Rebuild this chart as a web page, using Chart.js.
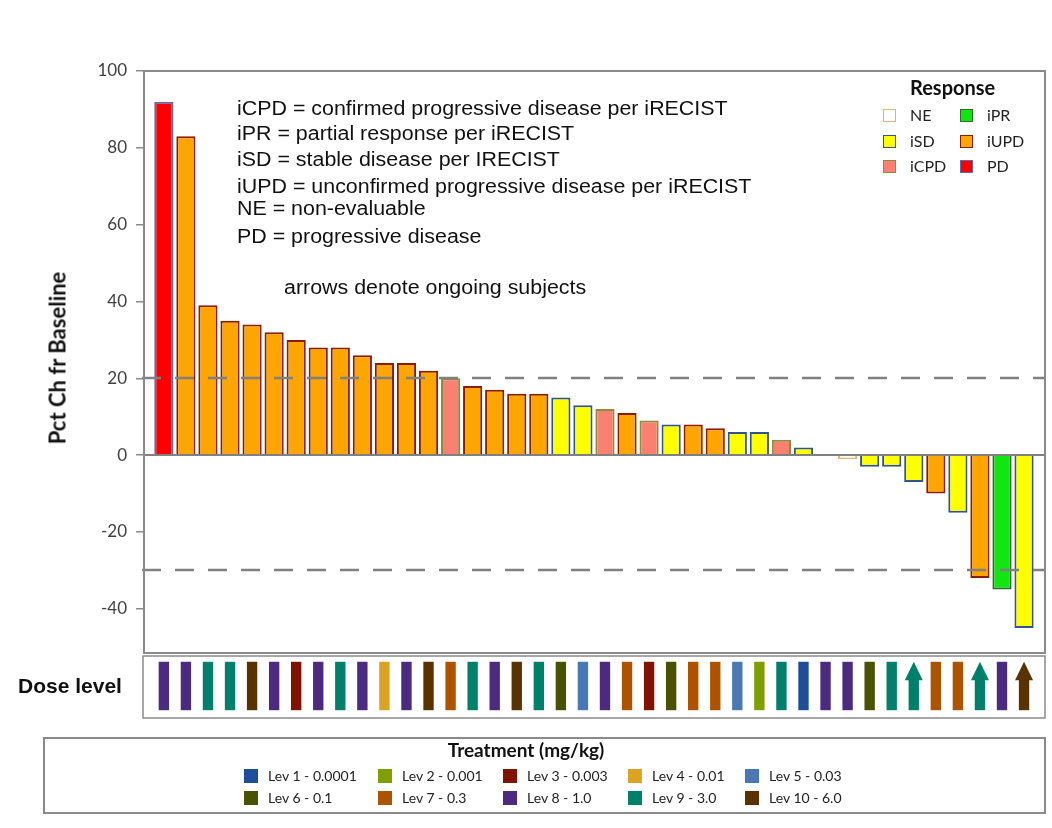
<!DOCTYPE html>
<html>
<head>
<meta charset="utf-8">
<script src="https://cdn.jsdelivr.net/npm/chart.js@4.4.0/dist/chart.umd.min.js"></script>
<style>
  body { margin: 0; background: #fff; }
  #wrap { position: relative; width: 1052px; height: 828px; overflow: hidden; font-family: Lato, sans-serif; background: #fff; }
  #chart { position: absolute; left: 0; top: 0; }
  .note { position: absolute; font-family: "Liberation Sans", Arial, sans-serif; font-size: 20px; line-height: 20px;
          color: #111; white-space: nowrap; transform-origin: 0 50%; transform: scaleX(1.07); }
  .ytitle { position: absolute; left: 57px; top: 358px; transform: translate(-50%, -50%) rotate(-90deg);
            font-family: Lato, sans-serif; font-weight: 700; font-size: 22px; color: #111; white-space: nowrap; }
  .doselab { position: absolute; left: 18px; top: 675px; font-family: "Liberation Sans", Arial, sans-serif;
             font-weight: 700; font-size: 21px; line-height: 22px; color: #111; }
  .resp-title { position: absolute; left: 910px; top: 75px; font-weight: 700; font-size: 20px; line-height: 24px; color: #111; }
  .sw { position: absolute; box-sizing: border-box; }
  .lab { position: absolute; white-space: nowrap; color: #222; }
  #treat { position: absolute; left: 43px; top: 737px; width: 1003px; height: 77px; box-sizing: border-box;
           border: 2px solid #8a8a8a; }
  .treat-title { position: absolute; left: 0; right: 0; top: 739px; text-align: center; font-weight: 700;
                 font-size: 19px; line-height: 22px; color: #111; }
</style>
</head>
<body>
<div id="wrap">
  <canvas id="chart" width="1052" height="828"></canvas>
  <div class="ytitle">Pct Ch fr Baseline</div>
  <div class="doselab">Dose level</div>
  <div id="treat"></div>
  <div class="treat-title">Treatment (mg/kg)</div>
  <div class="resp-title">Response</div>
</div>
<script>
// ---- data -------------------------------------------------------------
const subjects = [1,2,3,4,5,6,7,8,9,10,11,12,13,14,15,16,17,18,19,20,
                  21,22,23,24,25,26,27,28,29,30,31,32,33,34,35,36,37,38,39,40];
// best percent change from baseline in target lesions (null = no measurement)
const pctChange = [92,83,39,35,34,32,30,28,28,26,24,24,22,20,18,17,16,16,15,13,
                   12,11,9,8,8,7,6,6,4,2,null,-1,-3,-3,-7,-10,-15,-32,-35,-45];
const response  = ['PD','iUPD','iUPD','iUPD','iUPD','iUPD','iUPD','iUPD','iUPD','iUPD',
                   'iUPD','iUPD','iUPD','iCPD','iUPD','iUPD','iUPD','iUPD','iSD','iSD',
                   'iCPD','iUPD','iCPD','iSD','iUPD','iUPD','iSD','iSD','iCPD','iSD',
                   null,'NE','iSD','iSD','iSD','iUPD','iSD','iUPD','iPR','iSD'];
const doseLevel = [8,8,9,9,10,8,3,8,9,8,4,8,10,7,9,8,10,9,6,5,
                   8,7,3,6,7,7,5,2,9,1,8,8,6,9,9,7,7,9,8,10];
const ongoingSubjects = [35,38,40];
const yTicks = [100,80,60,40,20,0,-20,-40];
const refLines = [20,-30];

const responseOrder = ['NE','iPR','iSD','iUPD','iCPD','PD'];
const doseLabels = ['Lev 1 - 0.0001','Lev 2 - 0.001','Lev 3 - 0.003','Lev 4 - 0.01','Lev 5 - 0.03',
                    'Lev 6 - 0.1','Lev 7 - 0.3','Lev 8 - 1.0','Lev 9 - 3.0','Lev 10 - 6.0'];
const noteLines = ['iCPD = confirmed progressive disease per iRECIST',
                   'iPR = partial response per iRECIST',
                   'iSD = stable disease per IRECIST',
                   'iUPD = unconfirmed progressive disease per iRECIST',
                   'NE = non-evaluable',
                   'PD = progressive disease'];
const ongoingNote = 'arrows denote ongoing subjects';

// ---- styles -----------------------------------------------------------
const respFill   = { NE:'#ffffff', iPR:'#11e611', iSD:'#ffff00', iUPD:'#ffa500', iCPD:'#fa8072', PD:'#ff0000' };
const respBorder = { NE:'#e3b56a', iPR:'#2f6b2f', iSD:'#2f5496', iUPD:'#8b1c00', iCPD:'#8c8c3a', PD:'#5b6aa8' };
const doseColors = ['#1f4e99','#7f9f00','#7f1200','#dba321','#4a78b5',
                    '#485200','#ad5300','#4b2a80','#00806a','#5a3200'];
const frameColor = '#8a8a8a';
const DOSE_LO = 0.12, DOSE_HI = 0.865, ARROW_BASE = 0.58;   // dose strip marks, in strip units

// ---- datasets ---------------------------------------------------------
const isOngoing = subjects.map(s => ongoingSubjects.includes(s));
const waterfallData = subjects.map((s, i) => ({ x: s, y: pctChange[i] }));
const doseData = subjects.map((s, i) => ({ x: s, y: [DOSE_LO, isOngoing[i] ? ARROW_BASE + 0.01 : DOSE_HI] }));

// frame, reference lines and ongoing arrows
const decorations = {
  id: 'decorations',
  afterDatasetsDraw(chart) {
    const { ctx, scales: { x, y, yDose } } = chart;
    ctx.save();
    // reference lines over the bars
    ctx.strokeStyle = '#808080';
    ctx.lineWidth = 2.5;
    ctx.setLineDash([19, 14]);
    refLines.forEach(v => {
      const py = Math.round(y.getPixelForValue(v));
      ctx.beginPath(); ctx.moveTo(x.left - 2, py); ctx.lineTo(x.right, py); ctx.stroke();
    });
    ctx.setLineDash([]);
    // zero line
    ctx.lineWidth = 2;
    const z = Math.round(y.getPixelForValue(0));
    ctx.beginPath(); ctx.moveTo(x.left, z); ctx.lineTo(x.right, z); ctx.stroke();
    // plot frame (left side is the axis line)
    ctx.strokeStyle = frameColor;
    ctx.lineWidth = 2;
    ctx.strokeRect(x.left, y.top, x.right - x.left, y.bottom - y.top);
    // dose strip box
    ctx.lineWidth = 1.5;
    ctx.strokeRect(x.left - 1, yDose.top + 3, x.right - x.left + 1, yDose.bottom - yDose.top - 3);
    // arrow heads for ongoing subjects
    const meta = chart.getDatasetMeta(1);
    subjects.forEach((s, i) => {
      if (!isOngoing[i]) return;
      const px = meta.data[i].x;
      const tip = yDose.getPixelForValue(DOSE_HI);
      const base = yDose.getPixelForValue(ARROW_BASE);
      ctx.fillStyle = doseColors[doseLevel[i] - 1];
      ctx.beginPath();
      ctx.moveTo(px, tip); ctx.lineTo(px + 9, base); ctx.lineTo(px - 9, base); ctx.closePath();
      ctx.fill();
    });
    ctx.restore();
  }
};

new Chart(document.getElementById('chart'), {
  type: 'bar',
  data: {
    datasets: [
      {
        label: 'Pct Ch fr Baseline',
        data: waterfallData,
        yAxisID: 'y',
        backgroundColor: response.map(r => r ? respFill[r] : 'rgba(0,0,0,0)'),
        borderColor: response.map(r => r ? respBorder[r] : 'rgba(0,0,0,0)'),
        borderWidth: 2,
        barPercentage: 0.87,
        categoryPercentage: 1,
        grouped: false
      },
      {
        label: 'Dose level',
        data: doseData,
        yAxisID: 'yDose',
        backgroundColor: doseLevel.map(l => doseColors[l - 1]),
        borderWidth: 0,
        borderSkipped: false,
        barPercentage: 0.47,
        categoryPercentage: 1,
        grouped: false
      }
    ]
  },
  options: {
    responsive: false,
    animation: false,
    devicePixelRatio: 1,
    layout: { padding: { top: 71, right: 7, bottom: 110, left: 0 } },
    plugins: { legend: { display: false }, tooltip: { enabled: false } },
    scales: {
      // the strip is listed first so that the stacked left axes place it below the waterfall
      yDose: {
        stack: 'left',
        stackWeight: 65,
        position: 'left',
        min: 0,
        max: 1,
        afterFit: s => { s.width = 144; },
        grid: { display: false },
        border: { display: false },
        ticks: { display: false }
      },
      y: {
        stack: 'left',
        stackWeight: 582,
        position: 'left',
        min: -51.5,
        max: 100,
        afterBuildTicks: s => { s.ticks = yTicks.map(v => ({ value: v })); },
        afterFit: s => { s.width = 144; },
        grid: { drawOnChartArea: false, drawTicks: true, tickLength: 8, color: frameColor, lineWidth: 1.5 },
        border: { display: true, color: frameColor, width: 2 },
        ticks: { color: '#404040', font: { family: 'Lato', size: 17 }, padding: 9 }
      },
      x: {
        type: 'linear',
        offset: false,
        min: 0.1,
        max: 40.95,
        display: false,
        // one tick per subject keeps the bar width tied to the subject spacing
        afterBuildTicks: s => { s.ticks = subjects.map(v => ({ value: v })); }
      }
    }
  },
  plugins: [decorations]
});

// ---- text blocks and legends -------------------------------------------
const wrap = document.getElementById('wrap');
function add(cls, css, text) {
  const d = document.createElement('div');
  d.className = cls;
  Object.assign(d.style, css);
  if (text !== undefined) d.textContent = text;
  wrap.appendChild(d);
  return d;
}
const noteCenters = [108, 133, 159, 186, 208, 235.5];
noteLines.forEach((t, i) => add('note', { left: '237px', top: (noteCenters[i] - 10) + 'px' }, t));
add('note', { left: '284px', top: '277px' }, ongoingNote);

// response legend: two columns, three rows
const respRows = [115, 141, 166];
responseOrder.forEach((r, i) => {
  const col = i % 2, row = Math.floor(i / 2);
  const cy = respRows[row];
  add('sw', { left: (col ? 960 : 883) + 'px', top: (cy - 6) + 'px', width: '13px', height: '13px',
              background: respFill[r], border: '1.5px solid ' + respBorder[r] });
  add('lab', { left: (col ? 987 : 910) + 'px', top: (cy - 10) + 'px', fontSize: '16px', lineHeight: '20px' }, r);
});

// treatment legend: two rows of five
const treatCols = [244, 378, 503, 628, 745];
const treatRows = [776, 798];
doseLabels.forEach((t, i) => {
  const col = i % 5, row = Math.floor(i / 5);
  const cy = treatRows[row];
  add('sw', { left: treatCols[col] + 'px', top: (cy - 7) + 'px', width: '14px', height: '14px', background: doseColors[i] });
  add('lab', { left: (treatCols[col] + 24) + 'px', top: (cy - 9) + 'px', fontSize: '14px', lineHeight: '18px' }, t);
});
</script>
</body>
</html>
